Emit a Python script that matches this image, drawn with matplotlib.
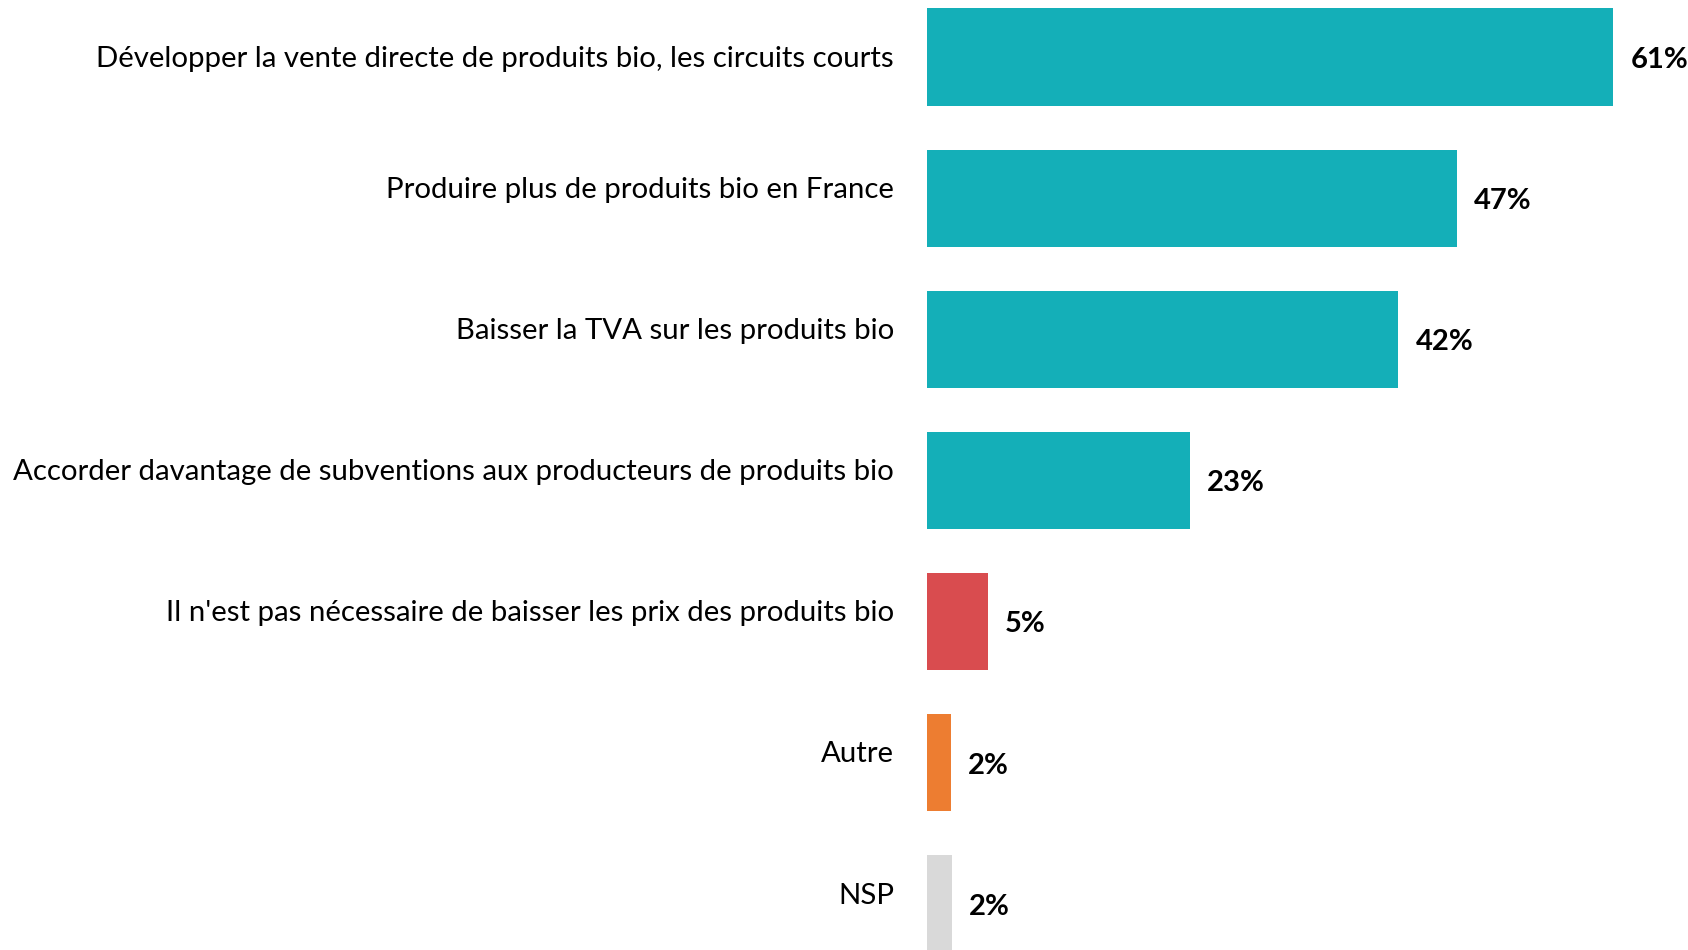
import matplotlib
matplotlib.use("Agg")
import matplotlib.pyplot as plt

categories = [
    "Développer la vente directe de produits bio, les circuits courts",
    "Produire plus de produits bio en France",
    "Baisser la TVA sur les produits bio",
    "Accorder davantage de subventions aux producteurs de produits bio",
    "Il n'est pas nécessaire de baisser les prix des produits bio",
    "Autre",
    "NSP",
]
values = [61.0, 47.1, 41.9, 23.4, 5.4, 2.1, 2.2]
labels = ["61%", "47%", "42%", "23%", "5%", "2%", "2%"]
colors = ["#14AFB8", "#14AFB8", "#14AFB8", "#14AFB8", "#D94C4F", "#ED7D31", "#D9D9D9"]

W, H = 1688, 950
fig = plt.figure(figsize=(W / 100, H / 100), dpi=100)
left_px = 927
ax = fig.add_axes([left_px / W, 0, 1 - left_px / W, 1])
px_per_unit = 11.25
ax.set_xlim(0, (W - left_px) / px_per_unit)
spacing = 141.1
c0 = 57
ax.set_ylim((H - c0) / spacing, -c0 / spacing)
ax.axis("off")

pos = list(range(len(values)))
ax.barh(pos, values, height=0.688, color=colors)

font = "Lato"
for i, (cat, v, lab) in enumerate(zip(categories, values, labels)):
    ax.annotate(lab, xy=(v, i), xytext=(17, -3), textcoords="offset pixels",
                ha="left", va="center", fontsize=21, fontweight="bold",
                family=font, color="black")
    dy = -2 if i == 0 else 8
    ax.annotate(cat, xy=(0, i), xytext=(-33, dy), textcoords="offset pixels",
                ha="right", va="center", fontsize=21.2, family=font,
                color="black", annotation_clip=False)

fig.savefig("out.png", dpi=100)
